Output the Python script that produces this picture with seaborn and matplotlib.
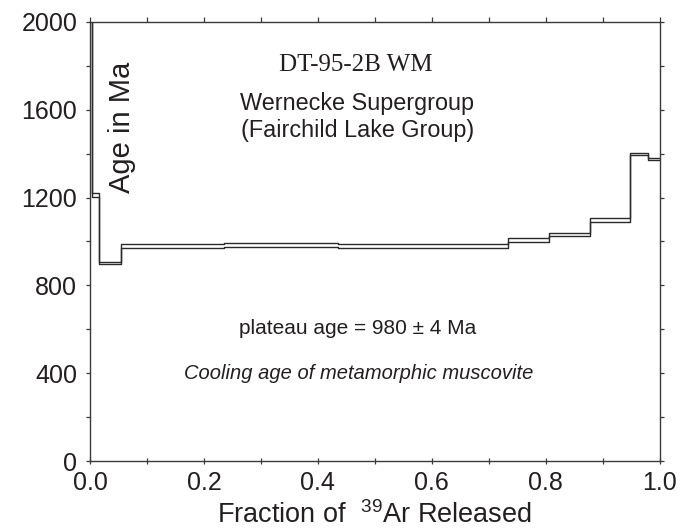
import numpy as np
import pandas as pd
import matplotlib
matplotlib.use("Agg")
import matplotlib.pyplot as plt
import seaborn as sns
from matplotlib.ticker import MultipleLocator

# Step boundaries (fraction of 39Ar released), apparent ages and 1-sigma errors (Ma)
edges = [0.0, 0.003, 0.016, 0.055, 0.235, 0.436, 0.620, 0.733, 0.806, 0.878, 0.948, 0.980, 1.0]
ages = [2400, 1212, 903, 979, 984, 980, 978, 1007, 1032, 1099, 1399, 1376]
errs = [30, 9, 5, 9, 10, 10, 9, 8, 8, 9, 6, 6]

x_ticks = [0.0, 0.2, 0.4, 0.6, 0.8, 1.0]
x_tick_labels = ["0.0", "0.2", "0.4", "0.6", "0.8", "1.0"]
y_ticks = [0, 400, 800, 1200, 1600, 2000]
y_tick_labels = ["0", "400", "800", "1200", "1600", "2000"]

sns.set_theme(style="white")
plt.rcParams['font.family'] = ['Liberation Sans', 'DejaVu Sans']
plt.rcParams['mathtext.fontset'] = 'custom'
plt.rcParams['mathtext.rm'] = 'Liberation Sans'
plt.rcParams['mathtext.it'] = 'Liberation Sans:italic'

ink = "#231f20"

upper = [a + e for a, e in zip(ages, errs)]
lower = [a - e for a, e in zip(ages, errs)]
df_up = pd.DataFrame({"x": edges, "y": upper + [upper[-1]]})
df_lo = pd.DataFrame({"x": edges, "y": lower + [lower[-1]]})

fig = plt.figure(figsize=(6.89, 5.31), dpi=100)
ax = fig.add_axes([0.1306, 0.1318, 0.8269, 0.8268])

for d in (df_up, df_lo):
    sns.lineplot(data=d, x="x", y="y", ax=ax, drawstyle="steps-post",
                 estimator=None, sort=False, color="#2a2a2a", linewidth=1.0)

ax.set_xlim(0, 1.0)
ax.set_ylim(0, 2000)

ax.set_xticks(x_ticks)
ax.set_xticklabels(x_tick_labels)
ax.set_yticks(y_ticks)
ax.set_yticklabels(y_tick_labels)
ax.xaxis.set_minor_locator(MultipleLocator(0.1))
ax.yaxis.set_minor_locator(MultipleLocator(200))

for s in ax.spines.values():
    s.set_color("#3a3a3a")
    s.set_linewidth(1.0)
    s.set_visible(True)

ax.tick_params(axis="x", which="both", direction="inout", length=4, width=0.9,
               color="#3a3a3a", labelsize=18, labelcolor=ink, pad=5,
               top=True, bottom=True)
ax.tick_params(axis="y", which="both", direction="out", length=3.2, width=0.9,
               color="#3a3a3a", labelsize=18, labelcolor=ink, pad=6,
               left=True, right=True)
for t in ax.xaxis.get_major_ticks() + ax.xaxis.get_minor_ticks():
    t.tick2line.set_marker(matplotlib.lines.TICKUP)
    t.tick2line.set_markersize(3.6)

ax.set_xlabel("Fraction of  $^{39}$Ar Released", fontsize=19.5, color=ink)
ax.xaxis.label.set_va("baseline")
ax.xaxis.set_label_coords(0.5, -0.142)
ax.set_ylabel("")

ax.text(0.056, 1518, "Age in Ma", rotation=90, fontsize=21, color=ink,
        ha="center", va="center")
ax.text(0.467, 1805, "DT-95-2B WM", fontsize=18, color=ink, ha="center", va="center",
        family=["Liberation Serif", "DejaVu Serif"])
ax.text(0.469, 1628, "Wernecke Supergroup", fontsize=16.8, color=ink,
        ha="center", va="center")
ax.text(0.469, 1505, "(Fairchild Lake Group)", fontsize=16.8, color=ink,
        ha="center", va="center")
ax.text(0.469, 605, "plateau age = 980 ± 4 Ma", fontsize=15, color=ink,
        ha="center", va="center")
ax.text(0.472, 400, "Cooling age of metamorphic muscovite", fontsize=14.5,
        color=ink, ha="center", va="center", style="italic")

ax.set_facecolor("white")
fig.savefig("out.png", dpi=100, facecolor="white")
